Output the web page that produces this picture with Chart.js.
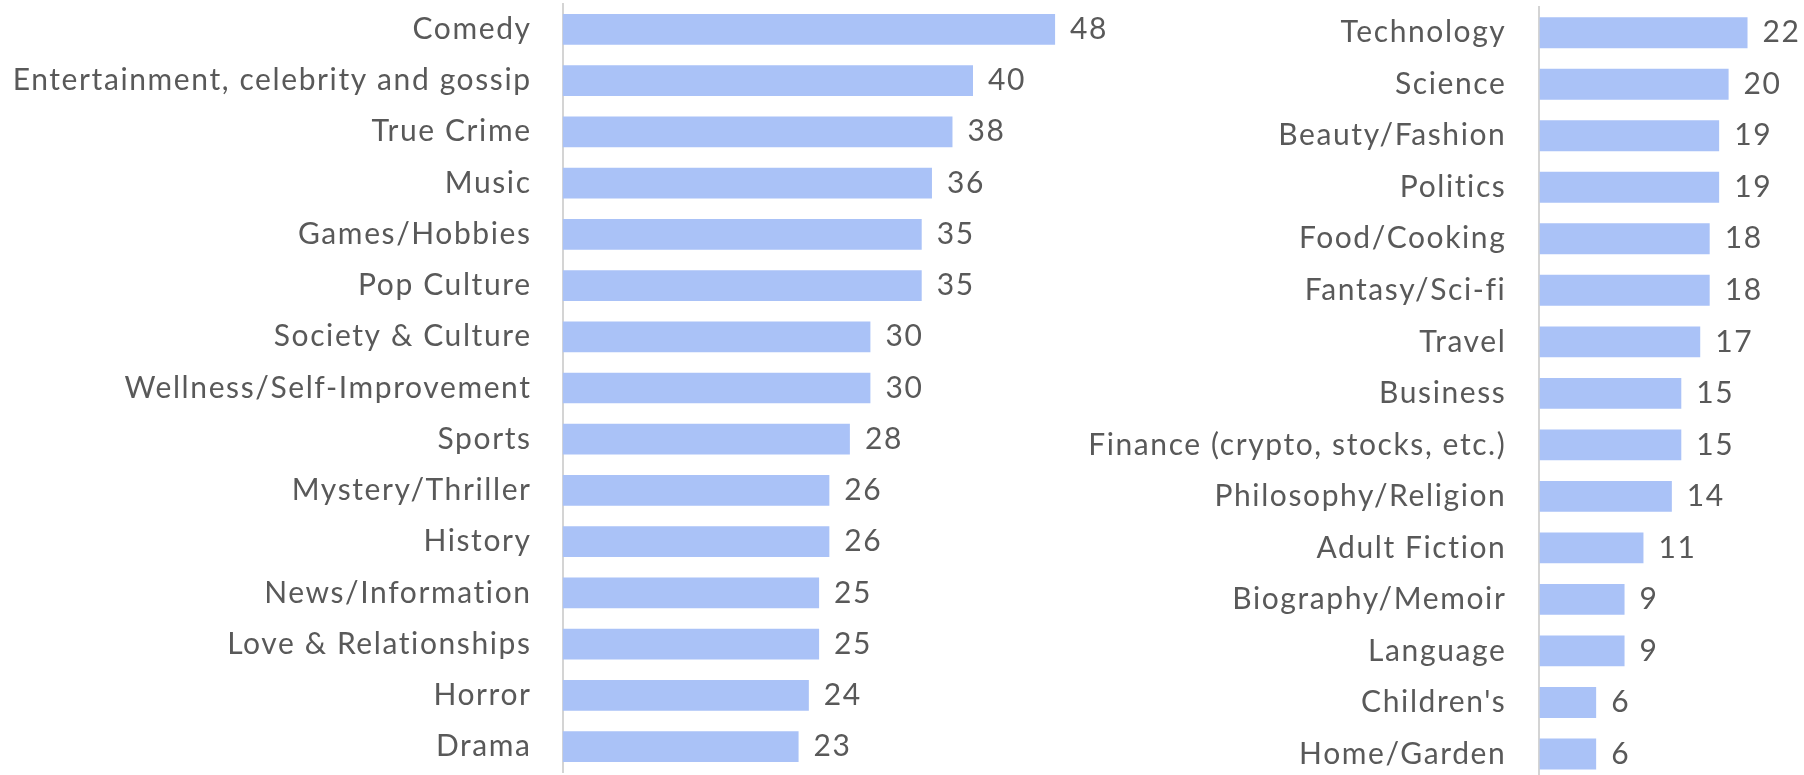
<!DOCTYPE html>
<html>
<head>
<meta charset="utf-8">
<title>Podcast genres</title>
<script src="https://cdn.jsdelivr.net/npm/chart.js@4.4.1/dist/chart.umd.min.js"></script>
<style>
  html, body { margin: 0; padding: 0; background: #fff; overflow: hidden; }
  body { width: 1804px; height: 775px; position: relative; }
  .panel { position: absolute; top: 0; }
  #left-panel { left: 0; width: 1180px; height: 775px; }
  #right-panel { left: 1080px; width: 724px; height: 780px; }
</style>
</head>
<body>
<div class="panel" id="left-panel"><canvas id="left-chart"></canvas></div>
<div class="panel" id="right-panel"><canvas id="right-chart"></canvas></div>
<script>
// Genre shares, top half of the list
const leftGenres = [
  'Comedy', 'Entertainment, celebrity and gossip', 'True Crime', 'Music',
  'Games/Hobbies', 'Pop Culture', 'Society & Culture', 'Wellness/Self-Improvement',
  'Sports', 'Mystery/Thriller', 'History', 'News/Information',
  'Love & Relationships', 'Horror', 'Drama'
];
const leftValues = [48, 40, 38, 36, 35, 35, 30, 30, 28, 26, 26, 25, 25, 24, 23];

// Genre shares, bottom half of the list
const rightGenres = [
  'Technology', 'Science', 'Beauty/Fashion', 'Politics', 'Food/Cooking',
  'Fantasy/Sci-fi', 'Travel', 'Business', 'Finance (crypto, stocks, etc.)',
  'Philosophy/Religion', 'Adult Fiction', 'Biography/Memoir', 'Language',
  "Children's", 'Home/Garden'
];
const rightValues = [22, 20, 19, 19, 18, 18, 17, 15, 15, 14, 11, 9, 9, 6, 6];

const BAR_COLOR = '#aac2f7';
const TEXT_COLOR = '#595959';
const AXIS_COLOR = '#d4d4d4';
const FONT = 'Lato';
const SPACING = '1.6px';

// Wider tracking for every bit of text on the canvas
const tracking = {
  id: 'tracking',
  beforeDraw(chart) {
    chart.ctx.letterSpacing = SPACING;
  }
};

// Writes each bar's value just past its end
const valueLabels = {
  id: 'valueLabels',
  afterDatasetsDraw(chart) {
    const ctx = chart.ctx;
    const meta = chart.getDatasetMeta(0);
    const data = chart.data.datasets[0].data;
    ctx.save();
    ctx.font = `30px ${FONT}`;
    ctx.fillStyle = TEXT_COLOR;
    ctx.textAlign = 'left';
    ctx.textBaseline = 'middle';
    meta.data.forEach((bar, i) => {
      ctx.fillText(String(data[i]), bar.x + 15, bar.y);
    });
    ctx.restore();
  }
};

function buildChart(canvasId, labels, values, cfg) {
  const ctx = document.getElementById(canvasId).getContext('2d');
  return new Chart(ctx, {
    type: 'bar',
    data: {
      labels: labels,
      datasets: [{
        data: values,
        backgroundColor: BAR_COLOR,
        borderWidth: 0,
        categoryPercentage: 1,
        barPercentage: 0.6
      }]
    },
    options: {
      indexAxis: 'y',
      responsive: true,
      maintainAspectRatio: false,
      animation: false,
      layout: {
        padding: { top: cfg.top, bottom: cfg.bottom, left: 0, right: cfg.right }
      },
      plugins: {
        legend: { display: false },
        tooltip: { enabled: false }
      },
      scales: {
        x: {
          display: false,
          min: 0,
          max: cfg.xMax
        },
        y: {
          grid: { display: false, drawTicks: false },
          border: { display: true, color: AXIS_COLOR, width: 2 },
          ticks: {
            color: TEXT_COLOR,
            padding: cfg.labelGap,
            font: { family: FONT, size: 30 }
          },
          // pin the axis line to a fixed x position, no extra vertical room
          afterFit: (scale) => {
            scale.width = cfg.axisX;
            scale.paddingTop = 0;
            scale.paddingBottom = 0;
          }
        }
      }
    },
    plugins: [tracking, valueLabels]
  });
}

document.fonts.load(`30px ${FONT}`).finally(() => {
  buildChart('left-chart', leftGenres, leftValues, {
    axisX: 562.6, xMax: 50, right: 104.4, top: 3.7, bottom: 2.7, labelGap: 31
  });
  buildChart('right-chart', rightGenres, rightValues, {
    axisX: 459.4, xMax: 25, right: 28.1, top: 7, bottom: 0.3, labelGap: 33
  });
});
</script>
</body>
</html>
